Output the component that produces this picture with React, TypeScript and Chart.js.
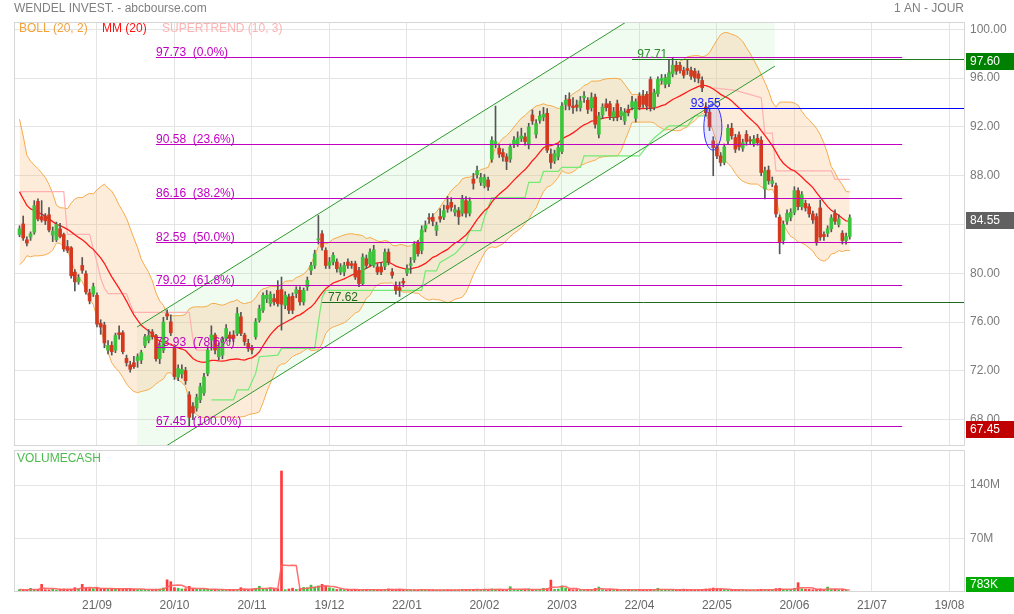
import React, { useEffect, useRef } from 'react';
import { Chart, registerables } from 'chart.js';

Chart.register(...registerables);

const FONT = '"Liberation Sans", Arial, Helvetica, sans-serif';

// ---------- DATA ----------
const opens = [
  83.18, 84.05, 82.75, 82.97, 83.37, 85.9, 84.65, 84.7, 84.8, 83.13,
  82.75, 83.65, 83.18, 82.2, 82.1, 80.1, 79.3, 80.65, 79.97, 78.4,
  78.3, 78.2, 75.9, 75.76, 73.7, 74.1, 73.7, 75.13, 75.13, 73.04,
  72.5, 72.68, 72.85, 72.9, 74.1, 74.5, 75.2, 74.9, 73.0, 73.7,
  76.7, 76.03, 73.85, 71.5, 71.76, 72.03, 70.04, 69.09, 68.96, 69.63,
  70.2, 71.8, 74.53, 74.94, 73.17, 73.31, 74.67, 74.94, 74.94, 75.08,
  76.44, 74.94, 74.26, 73.85, 74.8, 76.16, 76.98, 77.93, 77.53, 77.93,
  78.61, 78.67, 77.39, 78.07, 78.12, 78.34, 78.61, 77.66, 78.89, 80.25,
  80.65, 82.75, 83.24, 81.88, 80.65, 80.93, 80.93, 80.11, 80.11, 80.93,
  80.79, 80.79, 80.25, 79.16, 81.2, 80.79, 80.65, 80.52, 80.52, 80.57,
  81.74, 80.11, 79.02, 78.83, 79.35, 80.03, 80.65, 81.12, 82.48, 81.88,
  83.65, 84.55, 84.6, 83.51, 84.65, 84.6, 85.55, 85.82, 85.01, 85.14,
  84.93, 85.96, 84.93, 87.73, 88.08, 87.46, 87.19, 87.65, 89.36, 90.64,
  90.26, 89.9, 89.55, 89.36, 90.58, 90.64, 91.07, 91.18, 90.53, 92.98,
  91.4, 92.54, 92.81, 93.12, 89.77, 89.22, 89.55, 89.99, 93.85, 94.26,
  93.71, 93.8, 93.58, 94.39, 94.18, 93.58, 94.45, 91.4, 92.98, 93.9,
  93.9, 92.81, 93.9, 92.9, 92.49, 93.44, 93.63, 92.71, 94.53, 94.53,
  94.67, 95.89, 93.63, 94.72, 95.81, 95.48, 95.54, 96.35, 97.06, 97.06,
  96.63, 96.79, 96.63, 96.57, 96.35, 95.81, 93.63, 93.2, 90.86, 90.37,
  89.63, 89.09, 90.86, 91.89, 91.13, 91.35, 90.26, 91.4, 90.95, 90.64,
  91.07, 90.91, 86.91, 88.46, 87.37, 87.18, 84.6, 82.7, 84.27, 84.6,
  85.0, 86.78, 85.47, 85.74, 85.47, 84.87, 84.65, 85.36, 83.18, 83.29,
  83.65, 84.92, 84.0, 83.29, 82.69, 83.02,
];

const closes = [
  83.65, 82.9, 82.48, 83.24, 85.55, 84.46, 84.38, 84.3, 83.55, 83.46,
  84.0, 83.02, 82.0, 81.88, 79.8, 79.3, 79.65, 80.25, 78.48, 77.74,
  78.9, 75.84, 75.6, 74.3, 74.1, 73.58, 74.9, 74.97, 73.58, 72.68,
  72.14, 72.35, 73.17, 73.5, 74.8, 74.9, 74.8, 73.0, 74.1, 76.0,
  76.5, 75.13, 71.54, 72.2, 72.13, 71.2, 68.2, 68.55, 69.82, 70.72,
  71.5, 73.7, 74.94, 73.72, 73.99, 74.53, 75.48, 74.67, 74.67, 76.71,
  75.08, 74.4, 73.85, 73.72, 76.03, 77.1, 78.2, 78.2, 78.29, 77.66,
  77.53, 77.47, 78.2, 76.98, 76.98, 78.67, 77.66, 78.61, 79.43, 80.65,
  81.6, 82.83, 82.15, 80.65, 80.93, 81.47, 80.38, 80.52, 80.65, 80.65,
  80.65, 79.7, 79.16, 81.33, 80.65, 81.74, 81.93, 80.11, 80.11, 81.74,
  80.93, 79.84, 78.61, 78.61, 79.21, 80.38, 80.79, 82.37, 81.61, 83.57,
  83.92, 84.46, 84.27, 83.92, 84.44, 85.14, 85.28, 85.42, 85.23, 84.65,
  86.1, 84.93, 85.91, 87.38, 88.41, 87.86, 87.86, 87.1, 90.91, 90.8,
  89.77, 89.55, 89.17, 90.37, 90.91, 91.08, 91.26, 90.8, 92.0, 92.49,
  92.27, 92.9, 93.03, 90.1, 89.09, 89.82, 90.31, 93.71, 94.18, 93.71,
  93.58, 93.63, 94.12, 94.53, 93.44, 94.39, 92.22, 92.9, 93.63, 93.58,
  92.9, 93.25, 92.81, 93.3, 93.17, 93.17, 94.07, 94.07, 93.63, 93.85,
  93.71, 93.58, 94.8, 95.89, 95.97, 96.03, 96.44, 97.06, 96.57, 96.63,
  96.24, 96.63, 96.16, 96.03, 95.97, 95.21, 93.17, 92.0, 90.31, 89.63,
  89.09, 90.37, 91.89, 91.27, 90.18, 90.37, 90.72, 90.8, 90.85, 90.99,
  90.72, 88.27, 88.41, 87.59, 87.59, 84.87, 82.56, 84.0, 84.92, 85.0,
  86.78, 85.47, 86.45, 85.36, 84.87, 84.38, 82.56, 82.97, 83.02, 83.65,
  84.54, 84.27, 84.46, 82.69, 83.02, 84.55,
];

const highs = [
  83.9, 84.7, 83.0, 83.4, 85.96, 86.1, 85.96, 84.9, 85.4, 83.8,
  84.2, 84.1, 83.3, 82.7, 82.2, 80.3, 79.9, 81.3, 80.2, 78.7,
  79.2, 78.4, 76.2, 76.0, 74.5, 74.4, 75.1, 75.7, 75.3, 73.3,
  72.8, 73.2, 73.4, 73.7, 75.0, 75.4, 75.4, 75.0, 74.3, 76.4,
  77.0, 76.6, 74.0, 72.5, 72.5, 72.3, 70.3, 69.4, 70.1, 71.0,
  71.8, 74.0, 75.7, 75.1, 74.3, 74.8, 75.8, 75.2, 75.3, 77.2,
  76.8, 75.1, 74.6, 74.1, 76.3, 77.4, 78.4, 78.6, 78.5, 78.3,
  79.4, 79.7, 78.5, 78.3, 78.4, 78.9, 78.9, 78.8, 79.7, 80.9,
  81.9, 84.74, 83.5, 82.1, 81.3, 81.7, 81.2, 80.8, 80.9, 81.2,
  81.0, 81.0, 80.5, 81.6, 81.5, 82.0, 82.3, 80.8, 80.9, 82.0,
  82.0, 80.4, 79.3, 79.3, 79.6, 80.7, 81.3, 82.6, 82.7, 83.9,
  84.3, 84.9, 84.9, 84.2, 85.3, 85.6, 86.3, 86.2, 85.6, 85.4,
  86.4, 86.3, 86.2, 88.2, 88.8, 88.2, 88.1, 87.9, 91.2, 93.71,
  90.6, 90.2, 89.8, 90.6, 91.2, 91.6, 91.9, 91.5, 92.3, 93.4,
  92.6, 93.3, 93.6, 93.5, 90.2, 90.1, 90.6, 94.0, 94.6, 94.8,
  94.4, 94.2, 94.5, 94.9, 94.4, 94.8, 94.7, 93.2, 93.9, 94.3,
  94.1, 93.6, 94.2, 93.6, 93.5, 93.8, 94.5, 94.3, 94.8, 95.0,
  94.9, 96.1, 95.1, 96.1, 96.3, 96.3, 97.52, 97.71, 97.4, 97.3,
  96.9, 97.5, 96.9, 96.8, 96.6, 96.1, 94.0, 93.5, 91.2, 90.6,
  89.9, 90.6, 92.2, 92.3, 91.4, 91.6, 91.0, 91.7, 91.2, 91.3,
  91.4, 91.2, 88.7, 88.8, 87.9, 87.4, 84.8, 84.3, 85.2, 85.3,
  87.1, 87.0, 86.7, 86.0, 85.7, 85.1, 84.9, 86.0, 83.4, 83.9,
  84.8, 85.2, 84.8, 83.5, 83.3, 84.8,
];

const lows = [
  83.0, 82.7, 82.25, 82.7, 83.2, 84.3, 84.2, 84.0, 83.4, 82.6,
  82.6, 82.9, 81.8, 81.7, 79.6, 78.56, 79.1, 80.0, 78.3, 77.5,
  78.1, 75.6, 75.0, 73.9, 73.4, 73.3, 73.5, 74.6, 73.4, 72.4,
  71.9, 72.2, 72.3, 72.6, 73.9, 74.3, 74.6, 72.8, 72.6, 73.5,
  76.2, 74.9, 71.3, 71.2, 71.4, 70.9, 67.45, 68.0, 68.7, 69.4,
  70.0, 71.6, 73.7, 73.4, 72.9, 73.0, 74.5, 74.4, 74.4, 74.9,
  74.9, 74.1, 73.6, 73.4, 74.6, 76.0, 76.8, 77.6, 77.3, 77.4,
  77.3, 75.35, 77.1, 76.7, 76.7, 78.0, 77.4, 77.4, 78.6, 79.9,
  80.4, 82.4, 81.9, 80.4, 80.4, 80.7, 80.1, 79.9, 79.8, 80.4,
  80.4, 79.5, 78.9, 79.0, 80.4, 80.6, 80.5, 79.9, 79.9, 80.3,
  80.7, 79.6, 78.3, 78.1, 78.9, 79.8, 80.0, 80.9, 81.4, 81.6,
  83.4, 84.1, 83.9, 83.1, 84.2, 84.4, 85.0, 85.1, 84.7, 84.0,
  84.7, 84.6, 84.7, 86.9, 87.8, 87.2, 87.0, 86.8, 89.1, 90.3,
  89.5, 89.2, 88.5, 89.1, 90.3, 90.4, 90.8, 90.5, 90.2, 92.2,
  91.1, 92.3, 92.5, 89.9, 88.6, 89.0, 89.3, 89.8, 93.4, 93.4,
  93.1, 93.3, 93.3, 94.0, 93.1, 93.3, 91.9, 91.1, 92.7, 93.3,
  92.6, 92.5, 92.5, 92.6, 92.2, 92.9, 93.4, 92.4, 93.4, 93.6,
  93.4, 93.3, 93.4, 94.5, 95.5, 95.2, 95.3, 96.1, 96.3, 96.4,
  96.0, 96.3, 95.9, 95.7, 95.6, 94.9, 92.9, 91.7, 88.0, 89.4,
  88.8, 88.9, 90.6, 91.0, 89.9, 90.1, 90.0, 90.5, 90.6, 90.4,
  90.5, 88.0, 86.1, 87.3, 87.1, 84.6, 81.6, 82.4, 84.0, 84.3,
  84.8, 85.2, 85.2, 85.1, 84.6, 84.1, 82.3, 82.7, 82.7, 83.0,
  83.4, 84.0, 83.8, 82.4, 82.4, 82.8,
];

// volume (millions of euros)
const volumesM = [
  3.2, 2.8, 2.5, 4.8, 3.0, 3.5, 10.0, 3.0, 2.8, 3.6,
  2.6, 3.8, 4.0, 3.2, 3.6, 5.7, 4.2, 10.0, 5.0, 4.6,
  4.4, 5.5, 4.0, 4.8, 3.9, 4.2, 4.5, 4.1, 3.8, 4.6,
  4.3, 3.5, 3.2, 3.4, 3.0, 3.3, 3.1, 3.5, 3.8, 5.2,
  16.0, 13.5, 5.7, 5.0, 4.0, 4.3, 7.4, 4.2, 3.6, 3.8,
  3.5, 4.0, 3.0, 3.2, 2.8, 3.0, 2.6, 3.4, 3.0, 3.3,
  5.7, 3.5, 3.3, 3.6, 4.8, 7.4, 3.8, 4.0, 5.5, 3.6,
  4.2, 158.5, 3.0, 4.0, 5.0, 3.4, 4.3, 6.0, 5.6, 9.0,
  6.5, 8.0, 10.0, 7.4, 5.5, 4.4, 3.3, 3.8, 3.0, 3.1,
  2.6, 3.5, 3.0, 2.8, 3.2, 3.0, 3.4, 2.8, 2.7, 3.5,
  4.0, 3.6, 3.2, 3.0, 2.7, 2.5, 2.6, 3.0, 2.8, 3.2,
  2.6, 2.4, 2.9, 2.6, 2.3, 2.7, 3.0, 2.5, 2.8, 2.6,
  3.5, 3.2, 2.9, 3.3, 3.0, 3.0, 3.5, 3.0, 4.0, 3.6,
  3.1, 3.0, 2.6, 7.0, 3.0, 2.6, 3.5, 2.8, 4.2, 3.0,
  2.8, 3.3, 4.8, 4.5, 15.7, 3.4, 3.8, 7.9, 4.9, 3.5,
  3.0, 3.2, 2.6, 2.9, 3.3, 3.2, 4.6, 6.5, 3.1, 2.8,
  3.4, 2.9, 3.6, 2.6, 2.8, 3.5, 2.6, 3.1, 3.0, 2.7,
  2.6, 3.4, 3.0, 4.8, 2.5, 2.9, 3.3, 3.1, 2.6, 3.3,
  3.4, 2.8, 3.0, 2.6, 3.0, 3.4, 3.8, 4.1, 5.2, 4.0,
  3.4, 3.2, 3.0, 2.7, 2.9, 3.1, 2.5, 2.7, 2.4, 2.6,
  2.8, 3.6, 3.3, 3.0, 2.6, 4.3, 4.8, 3.5, 3.0, 3.2,
  4.8, 12.2, 4.3, 3.6, 3.4, 3.0, 3.6, 3.9, 2.9, 6.5,
  3.1, 3.5, 2.9, 3.2, 2.7, 0.783,
];

// closes of the 19 sessions before the first visible one (needed by the 20-day indicators)
const historyCloses = [
  94.0, 93.5, 89.0, 88.0, 87.5, 87.5, 87.5, 88.0, 88.0, 88.0,
  85.5, 85.0, 85.0, 84.0, 84.0, 84.0, 84.0, 83.5, 83.8,
];

// x axis (session index) ticks and labels
const tickIndex = [21, 42, 63, 84, 105, 126, 147, 168, 189, 210, 231, 252];
const tickLabels = ['21/09', '20/10', '20/11', '19/12', '22/01', '20/02', '20/03', '22/04', '22/05', '20/06', '21/07', '19/08'];
const priceTicks = [68, 72, 76, 80, 84, 88, 92, 96, 100];
const volumeTicks = [70, 140];

// Supertrend (10, 3): [session, level]
const supertrendDownA = [
  [0, 86.7], [12, 86.7], [13, 83.2], [19, 83.2], [20, 82.0], [21, 80.9], [22, 79.6], [23, 78.8],
  [24, 78.34], [29, 78.34], [30, 77.5], [31, 76.8], [46, 76.8], [47, 74.6], [48, 73.7], [51, 73.7],
];
const supertrendUp = [
  [52, 69.63], [58, 69.63], [59, 70.45], [62, 70.45], [64, 71.8], [65, 73.17], [70, 73.3], [71, 73.85],
  [80, 73.85], [81, 76.0], [82, 78.0], [83, 78.6], [109, 78.6], [110, 80.2], [113, 80.2], [114, 80.9],
  [118, 81.6], [121, 82.6], [122, 83.5], [125, 83.5], [126, 84.6], [128, 86.2], [137, 86.2], [138, 87.46],
  [141, 87.46], [142, 88.35], [146, 88.35], [147, 88.68], [152, 88.68], [153, 89.63], [168, 89.63],
  [170, 90.4], [172, 91.1], [174, 91.6], [176, 92.08], [181, 92.08], [183, 92.9], [187, 92.9],
];
const supertrendDownB = [
  [188, 95.2], [194, 95.0], [201, 94.4], [202, 91.5], [204, 91.5], [205, 88.4], [220, 88.4], [221, 87.7], [225, 87.7],
];

// Fibonacci retracement
const fibLevels = [97.73, 90.58, 86.16, 82.59, 79.02, 73.93, 67.45];
const fibPercents = ['0.0%', '23.6%', '38.2%', '50.0%', '61.8%', '78.6%', '100.0%'];
const fibSpan = [37, 239.2];

// regression channel: [session start, session end]
const channelIdx = [31.84, 204.7];
const channelUpper = [75.6, 108.2];
const channelLower = [64.36, 96.98];

// horizontal marker lines
const markerValues = [97.6, 77.62, 93.55];
const markerFrom = [166, 82, 181.7];
const markerTexts = ['97.71', '77.62', '93.55'];
const markerTextAt = [167.4, 83.6, 181.9];

// ellipse: [session center, price center, half width (sessions), half height (price)]
const ellipse = [187.9, 91.99, 2.44, 1.89];

// right-axis value boxes
const boxValues = [97.6, 84.55, 67.45];
const boxLabels = ['97.60', '84.55', '67.45'];
const lastVolumeLabel = '783K';

// ---------- LAYOUT / STYLE ----------
const X_MIN = -1.49;
const X_MAX = 256.23;
const Y_MIN = 65.85;
const Y_MAX = 100.6;
const V_MAX = 186;
const GRID = '#e4e4e4';
const FRAME = '#d6d6d6';
const UP = '#3cc43c';
const DOWN = '#d4391f';
const VUP = '#3fbf3f';
const VDOWN = '#ff3a3a';

const N = closes.length;

function buildIndicators() {
  const all = historyCloses.concat(closes);
  const H = historyCloses.length;
  const mm: { x: number; y: number }[] = [];
  const up: { x: number; y: number }[] = [];
  const lo: { x: number; y: number }[] = [];
  for (let i = 0; i < N; i++) {
    const w = all.slice(i + H - 19, i + H + 1);
    const m = w.reduce((a, b) => a + b, 0) / w.length;
    const sd = Math.sqrt(w.reduce((a, b) => a + (b - m) * (b - m), 0) / w.length);
    mm.push({ x: i, y: m });
    up.push({ x: i, y: m + 2 * sd });
    lo.push({ x: i, y: m - 2 * sd });
  }
  const vma: { x: number; y: number }[] = [];
  for (let i = 0; i < N; i++) {
    const w = volumesM.slice(Math.max(0, i - 4), i + 1);
    vma.push({ x: i, y: w.reduce((a, b) => a + b, 0) / w.length });
  }
  return { mm, up, lo, vma };
}

const pts = (arr: number[][]) => arr.map(([x, y]) => ({ x, y }));

function frame(chart: any) {
  const { ctx, chartArea: a } = chart;
  ctx.save();
  ctx.strokeStyle = FRAME;
  ctx.lineWidth = 1;
  ctx.strokeRect(Math.round(a.left) + 0.5, Math.round(a.top) + 0.5, Math.round(a.right - a.left) - 1, Math.round(a.bottom - a.top) - 1);
  ctx.restore();
}

function valueBox(ctx: any, yMid: number, text: string, color: string) {
  ctx.fillStyle = color;
  ctx.fillRect(966, Math.round(yMid - 7), 48, 17);
  ctx.fillStyle = '#ffffff';
  ctx.font = `12px ${FONT}`;
  ctx.textAlign = 'left';
  ctx.textBaseline = 'middle';
  ctx.fillText(text, 970, Math.round(yMid) + 1.5);
}

const priceDecor = {
  id: 'priceDecor',
  beforeDatasetsDraw(chart: any) {
    const { ctx, chartArea: a, scales } = chart;
    const x = scales.x, y = scales.y;
    ctx.save();
    ctx.beginPath();
    ctx.rect(a.left, a.top, a.right - a.left, a.bottom - a.top);
    ctx.clip();
    ctx.beginPath();
    ctx.moveTo(x.getPixelForValue(channelIdx[0]), y.getPixelForValue(channelUpper[0]));
    ctx.lineTo(x.getPixelForValue(channelIdx[1]), y.getPixelForValue(channelUpper[1]));
    ctx.lineTo(x.getPixelForValue(channelIdx[1]), y.getPixelForValue(channelLower[1]));
    ctx.lineTo(x.getPixelForValue(channelIdx[0]), y.getPixelForValue(channelLower[0]));
    ctx.closePath();
    ctx.fillStyle = 'rgba(170,240,170,0.17)';
    ctx.fill();
    ctx.restore();
  },
  afterDatasetsDraw(chart: any) {
    const { ctx, chartArea: a, scales } = chart;
    const x = scales.x, y = scales.y;
    ctx.save();
    ctx.beginPath();
    ctx.rect(a.left, a.top, a.right - a.left, a.bottom - a.top);
    ctx.clip();

    // channel lines
    ctx.strokeStyle = '#2f9a2f';
    ctx.lineWidth = 1;
    [channelUpper, channelLower].forEach((ln) => {
      ctx.beginPath();
      ctx.moveTo(x.getPixelForValue(channelIdx[0]), y.getPixelForValue(ln[0]));
      ctx.lineTo(x.getPixelForValue(channelIdx[1]), y.getPixelForValue(ln[1]));
      ctx.stroke();
    });

    // fibonacci
    ctx.font = `12px ${FONT}`;
    ctx.textAlign = 'left';
    ctx.textBaseline = 'alphabetic';
    fibLevels.forEach((v, k) => {
      const py = Math.round(y.getPixelForValue(v)) + 0.5;
      const x0 = x.getPixelForValue(fibSpan[0]);
      const x1 = x.getPixelForValue(fibSpan[1]);
      ctx.strokeStyle = '#c000c0';
      ctx.beginPath();
      ctx.moveTo(x0, py);
      ctx.lineTo(x1, py);
      ctx.stroke();
      ctx.fillStyle = '#c000c0';
      ctx.fillText(`${v.toFixed(2)}  (${fibPercents[k]})`, x0, py - 1.5);
    });

    // marker lines
    const mColors = ['#1e7a1e', '#1b6b1b', '#0000ff'];
    const tColors = ['#2a8c2a', '#1b6b1b', '#1a1aff'];
    markerValues.forEach((v, k) => {
      const py = Math.round(y.getPixelForValue(v)) + 0.5;
      ctx.strokeStyle = mColors[k];
      ctx.beginPath();
      ctx.moveTo(x.getPixelForValue(markerFrom[k]), py);
      ctx.lineTo(a.right, py);
      ctx.stroke();
      ctx.fillStyle = tColors[k];
      ctx.fillText(markerTexts[k], x.getPixelForValue(markerTextAt[k]), py - 2);
    });

    // ellipse
    const cx = x.getPixelForValue(ellipse[0]);
    const cy = y.getPixelForValue(ellipse[1]);
    const rx = Math.abs(x.getPixelForValue(ellipse[0] + ellipse[2]) - cx);
    const ry = Math.abs(y.getPixelForValue(ellipse[1] + ellipse[3]) - cy);
    ctx.beginPath();
    ctx.ellipse(cx, cy, rx, ry, 0, 0, Math.PI * 2);
    ctx.fillStyle = 'rgba(120,120,255,0.16)';
    ctx.fill();
    ctx.strokeStyle = '#3030ff';
    ctx.lineWidth = 1;
    ctx.stroke();
    ctx.restore();
  },
  afterDraw(chart: any) {
    const { ctx, scales } = chart;
    const y = scales.y;
    frame(chart);
    ctx.save();
    // title
    ctx.font = `12px ${FONT}`;
    ctx.textBaseline = 'middle';
    ctx.textAlign = 'left';
    ctx.fillStyle = '#7f7f7f';
    ctx.fillText('WENDEL INVEST. - abcbourse.com', 14, 9);
    ctx.textAlign = 'right';
    ctx.fillText('1 AN - JOUR', 964, 9);
    // legend
    ctx.textAlign = 'left';
    ctx.fillStyle = '#f5a13a';
    ctx.fillText('BOLL (20, 2)', 19, 29);
    ctx.fillStyle = '#ff1010';
    ctx.fillText('MM (20)', 102, 29);
    ctx.fillStyle = '#ffb2b2';
    ctx.fillText('SUPERTREND (10, 3)', 162, 29);
    // value boxes
    const boxColors = ['#008000', '#606060', '#c00000'];
    boxValues.forEach((v, k) => valueBox(ctx, y.getPixelForValue(v) + 1.5, boxLabels[k], boxColors[k]));
    ctx.restore();
  },
};

const volumeDecor = {
  id: 'volumeDecor',
  afterDraw(chart: any) {
    const { ctx, chartArea: a } = chart;
    frame(chart);
    ctx.save();
    ctx.font = `12px ${FONT}`;
    ctx.textAlign = 'left';
    ctx.textBaseline = 'middle';
    ctx.fillStyle = '#4cbc4c';
    ctx.fillText('VOLUMECASH', 17, a.top + 9);
    ctx.fillStyle = '#00aa00';
    ctx.fillRect(966, a.bottom - 15, 48, 15);
    ctx.fillStyle = '#ffffff';
    ctx.fillText(lastVolumeLabel, 970, a.bottom - 7);
    ctx.restore();
  },
};

export default function App() {
  const priceRef = useRef<HTMLCanvasElement | null>(null);
  const volRef = useRef<HTMLCanvasElement | null>(null);

  useEffect(() => {
    document.body.style.margin = '0';
    document.body.style.background = '#ffffff';
    Chart.defaults.font.family = FONT;
    Chart.defaults.font.size = 12;

    const { mm, up, lo, vma } = buildIndicators();
    const idx = closes.map((_, i) => i);
    const bodies = idx.map((i) => ({ x: i, y: [Math.min(opens[i], closes[i]), Math.max(opens[i], closes[i])] }));
    const wicks = idx.map((i) => ({
      x: i,
      y: [Math.min(lows[i], opens[i], closes[i]), Math.max(highs[i], opens[i], closes[i])],
    }));
    const bodyColors = idx.map((i) => (closes[i] >= opens[i] ? UP : DOWN));
    const volColors = idx.map((i) => (closes[i] >= opens[i] ? VUP : VDOWN));
    const vols = idx.map((i) => ({ x: i, y: volumesM[i] }));
    const lastClose = closes[N - 1];

    const xScaleBase = {
      type: 'linear',
      min: X_MIN,
      max: X_MAX,
      offset: false,
      bounds: 'data',
      border: { display: false },
      grid: { color: GRID, drawTicks: false, offset: false },
      afterBuildTicks: (s: any) => {
        s.ticks = tickIndex.map((v) => ({ value: v }));
      },
    };

    const priceChart = new Chart(priceRef.current as HTMLCanvasElement, {
      type: 'bar',
      data: {
        datasets: [
          { type: 'line', data: up, borderColor: '#f6aa48', borderWidth: 1, pointRadius: 0, tension: 0, fill: '+1', backgroundColor: 'rgba(250,188,125,0.28)', order: 6 },
          { type: 'line', data: lo, borderColor: '#f6aa48', borderWidth: 1, pointRadius: 0, tension: 0, fill: false, order: 6 },
          { type: 'line', data: pts(supertrendDownA), borderColor: '#ffb0b0', borderWidth: 1.2, pointRadius: 0, tension: 0, fill: false, order: 4 },
          { type: 'line', data: pts(supertrendUp), borderColor: '#74ea74', borderWidth: 1.2, pointRadius: 0, tension: 0, fill: false, order: 4 },
          { type: 'line', data: pts(supertrendDownB), borderColor: '#ffb0b0', borderWidth: 1.2, pointRadius: 0, tension: 0, fill: false, order: 4 },
          { type: 'line', data: mm, borderColor: '#ff1a1a', borderWidth: 1.3, pointRadius: 0, tension: 0, fill: false, order: 3 },
          { type: 'bar', data: wicks, backgroundColor: '#555555', barThickness: 1, grouped: false, order: 1 },
          { type: 'bar', data: bodies, backgroundColor: bodyColors, barThickness: 3, grouped: false, order: 0 },
        ] as any,
      },
      options: {
        responsive: false,
        animation: false,
        devicePixelRatio: 1,
        events: [],
        layout: { padding: { left: 14, top: 22, right: 0, bottom: 2 } },
        plugins: { legend: { display: false }, tooltip: { enabled: false } },
        scales: {
          x: {
            ...xScaleBase,
            ticks: { display: false },
            afterFit: (s: any) => {
              s.height = 0;
              s.paddingLeft = 0;
              s.paddingRight = 0;
            },
          },
          y: {
            type: 'linear',
            position: 'right',
            min: Y_MIN,
            max: Y_MAX,
            bounds: 'data',
            beginAtZero: false,
            border: { display: false },
            grid: { color: GRID, drawTicks: false },
            ticks: {
              color: '#7a7a7a',
              padding: 5,
              font: { size: 12, family: FONT },
              callback: (v: any) => (Math.abs(Number(v) - lastClose) < 1 ? '' : Number(v).toFixed(2)),
            },
            afterBuildTicks: (s: any) => {
              s.ticks = priceTicks.map((v) => ({ value: v }));
            },
            afterFit: (s: any) => {
              s.width = 49;
              s.paddingTop = 0;
              s.paddingBottom = 0;
            },
          },
        } as any,
      },
      plugins: [priceDecor],
    } as any);

    const volumeChart = new Chart(volRef.current as HTMLCanvasElement, {
      type: 'bar',
      data: {
        datasets: [
          { type: 'line', data: vma, borderColor: 'rgba(255,95,95,0.9)', borderWidth: 1.5, pointRadius: 0, tension: 0, fill: false, order: 0 },
          { type: 'bar', data: vols, backgroundColor: volColors, barThickness: 2, grouped: false, order: 1 },
        ] as any,
      },
      options: {
        responsive: false,
        animation: false,
        devicePixelRatio: 1,
        events: [],
        layout: { padding: { left: 14, top: 2, right: 0, bottom: 0 } },
        plugins: { legend: { display: false }, tooltip: { enabled: false } },
        scales: {
          x: {
            ...xScaleBase,
            ticks: {
              display: true,
              color: '#666666',
              padding: 6,
              autoSkip: false,
              maxRotation: 0,
              font: { size: 12, family: FONT },
              callback: (v: any) => {
                const k = tickIndex.indexOf(Number(v));
                return k >= 0 ? tickLabels[k] : '';
              },
            },
            afterFit: (s: any) => {
              s.height = 22;
              s.paddingLeft = 0;
              s.paddingRight = 0;
            },
          },
          y: {
            type: 'linear',
            position: 'right',
            min: 0,
            max: V_MAX,
            bounds: 'data',
            border: { display: false },
            grid: { color: GRID, drawTicks: false },
            ticks: {
              color: '#7a7a7a',
              padding: 5,
              font: { size: 12, family: FONT },
              callback: (v: any) => `${v}M`,
            },
            afterBuildTicks: (s: any) => {
              s.ticks = volumeTicks.map((v) => ({ value: v }));
            },
            afterFit: (s: any) => {
              s.width = 49;
              s.paddingTop = 0;
              s.paddingBottom = 0;
            },
          },
        } as any,
      },
      plugins: [volumeDecor],
    } as any);

    return () => {
      priceChart.destroy();
      volumeChart.destroy();
    };
  }, []);

  return (
    <div style={{ position: 'relative', width: 1014, height: 614, background: '#ffffff', overflow: 'hidden' }}>
      <canvas ref={priceRef} width={1014} height={448} style={{ position: 'absolute', left: 0, top: 0, width: 1014, height: 448 }} />
      <canvas ref={volRef} width={1014} height={166} style={{ position: 'absolute', left: 0, top: 448, width: 1014, height: 166 }} />
    </div>
  );
}
